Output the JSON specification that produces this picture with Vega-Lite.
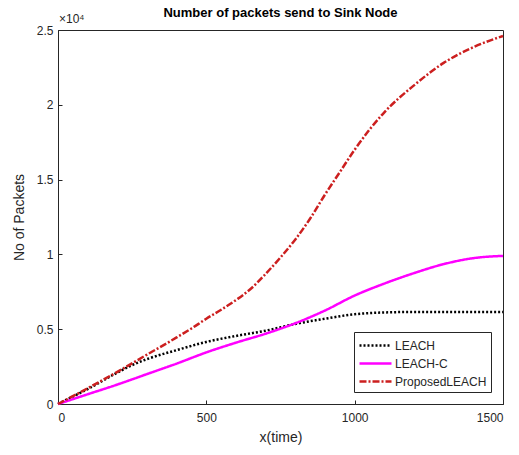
{
  "$schema": "https://vega.github.io/schema/vega-lite/v6.json",
  "width": 445,
  "height": 374,
  "autosize": {"type": "none"},
  "padding": {"left": 58, "top": 30, "right": 16, "bottom": 51},
  "background": "white",
  "title": {"text": "Number of packets send to Sink Node", "frame": "group", "font": "Liberation Sans", "fontSize": 13, "fontWeight": "bold", "color": "#000000", "offset": 0, "dy": 7},
  "config": {
    "view": {"stroke": "#262626", "strokeWidth": 1},
    "axis": {"labelFont": "Liberation Sans", "titleFont": "Liberation Sans", "labelColor": "#262626", "titleColor": "#262626", "labelFontSize": 12, "titleFontSize": 14, "titleFontWeight": "normal", "domainColor": "#262626", "tickColor": "#262626", "grid": false, "tickSize": -4, "labelPadding": 12}
  },
  "data": {"values": [
    {"time": 0, "packets": 0, "protocol": "LEACH"},
    {"time": 100, "packets": 1000, "protocol": "LEACH"},
    {"time": 200, "packets": 2100, "protocol": "LEACH"},
    {"time": 250, "packets": 2600, "protocol": "LEACH"},
    {"time": 300, "packets": 3000, "protocol": "LEACH"},
    {"time": 400, "packets": 3600, "protocol": "LEACH"},
    {"time": 500, "packets": 4150, "protocol": "LEACH"},
    {"time": 600, "packets": 4550, "protocol": "LEACH"},
    {"time": 700, "packets": 4900, "protocol": "LEACH"},
    {"time": 800, "packets": 5350, "protocol": "LEACH"},
    {"time": 900, "packets": 5700, "protocol": "LEACH"},
    {"time": 1000, "packets": 6000, "protocol": "LEACH"},
    {"time": 1100, "packets": 6120, "protocol": "LEACH"},
    {"time": 1200, "packets": 6150, "protocol": "LEACH"},
    {"time": 1300, "packets": 6150, "protocol": "LEACH"},
    {"time": 1400, "packets": 6150, "protocol": "LEACH"},
    {"time": 1500, "packets": 6150, "protocol": "LEACH"},
    {"time": 0, "packets": 0, "protocol": "LEACH-C"},
    {"time": 100, "packets": 650, "protocol": "LEACH-C"},
    {"time": 200, "packets": 1300, "protocol": "LEACH-C"},
    {"time": 300, "packets": 2000, "protocol": "LEACH-C"},
    {"time": 400, "packets": 2700, "protocol": "LEACH-C"},
    {"time": 500, "packets": 3450, "protocol": "LEACH-C"},
    {"time": 600, "packets": 4100, "protocol": "LEACH-C"},
    {"time": 700, "packets": 4700, "protocol": "LEACH-C"},
    {"time": 800, "packets": 5400, "protocol": "LEACH-C"},
    {"time": 900, "packets": 6250, "protocol": "LEACH-C"},
    {"time": 1000, "packets": 7250, "protocol": "LEACH-C"},
    {"time": 1100, "packets": 8050, "protocol": "LEACH-C"},
    {"time": 1200, "packets": 8750, "protocol": "LEACH-C"},
    {"time": 1300, "packets": 9350, "protocol": "LEACH-C"},
    {"time": 1400, "packets": 9750, "protocol": "LEACH-C"},
    {"time": 1500, "packets": 9900, "protocol": "LEACH-C"},
    {"time": 0, "packets": 0, "protocol": "ProposedLEACH"},
    {"time": 100, "packets": 1050, "protocol": "ProposedLEACH"},
    {"time": 200, "packets": 2150, "protocol": "ProposedLEACH"},
    {"time": 300, "packets": 3300, "protocol": "ProposedLEACH"},
    {"time": 400, "packets": 4450, "protocol": "ProposedLEACH"},
    {"time": 450, "packets": 5050, "protocol": "ProposedLEACH"},
    {"time": 500, "packets": 5700, "protocol": "ProposedLEACH"},
    {"time": 550, "packets": 6300, "protocol": "ProposedLEACH"},
    {"time": 600, "packets": 6950, "protocol": "ProposedLEACH"},
    {"time": 650, "packets": 7700, "protocol": "ProposedLEACH"},
    {"time": 700, "packets": 8700, "protocol": "ProposedLEACH"},
    {"time": 750, "packets": 9800, "protocol": "ProposedLEACH"},
    {"time": 800, "packets": 11000, "protocol": "ProposedLEACH"},
    {"time": 850, "packets": 12400, "protocol": "ProposedLEACH"},
    {"time": 900, "packets": 14000, "protocol": "ProposedLEACH"},
    {"time": 950, "packets": 15500, "protocol": "ProposedLEACH"},
    {"time": 1000, "packets": 17000, "protocol": "ProposedLEACH"},
    {"time": 1100, "packets": 19500, "protocol": "ProposedLEACH"},
    {"time": 1200, "packets": 21300, "protocol": "ProposedLEACH"},
    {"time": 1300, "packets": 22800, "protocol": "ProposedLEACH"},
    {"time": 1400, "packets": 23850, "protocol": "ProposedLEACH"},
    {"time": 1500, "packets": 24600, "protocol": "ProposedLEACH"}
  ]},
  "layer": [
    {
      "mark": {"type": "line", "strokeWidth": 2.5, "interpolate": "monotone"},
      "encoding": {
        "x": {"field": "time", "type": "quantitative", "scale": {"domain": [0, 1500], "nice": false}, "axis": {"values": [0, 500, 1000, 1500], "format": "d", "title": "x(time)", "titlePadding": 7}},
        "y": {"field": "packets", "type": "quantitative", "scale": {"domain": [0, 25000], "nice": false}, "axis": {"values": [0, 5000, 10000, 15000, 20000, 25000], "labelExpr": "datum.value / 10000", "labelPadding": 9, "title": "No of Packets", "titlePadding": 10}},
        "color": {"field": "protocol", "type": "nominal", "scale": {"domain": ["LEACH", "LEACH-C", "ProposedLEACH"], "range": ["#000000", "#ff00ff", "#cc1f1f"]},
          "legend": {"title": null, "orient": "bottom-right", "offset": 12, "strokeColor": "#262626", "fillColor": "white", "padding": 4, "labelFont": "Liberation Sans", "labelFontSize": 12, "labelColor": "#262626", "symbolType": "M-1,0H3", "symbolSize": 256, "symbolStrokeWidth": 2.5, "rowPadding": 2, "labelOffset": 18}},
        "strokeDash": {"field": "protocol", "type": "nominal", "scale": {"domain": ["LEACH", "LEACH-C", "ProposedLEACH"], "range": [[2, 2], [1, 0], [7, 2, 2, 2]]}, "legend": null}
      }
    },
    {
      "data": {"values": [{"label": "×10⁴"}]},
      "mark": {"type": "text", "align": "left", "baseline": "bottom", "dx": 1, "dy": -4, "font": "Liberation Sans", "fontSize": 12, "color": "#262626"},
      "encoding": {"x": {"datum": 0}, "y": {"datum": 25000}, "text": {"field": "label"}}
    }
  ]
}
